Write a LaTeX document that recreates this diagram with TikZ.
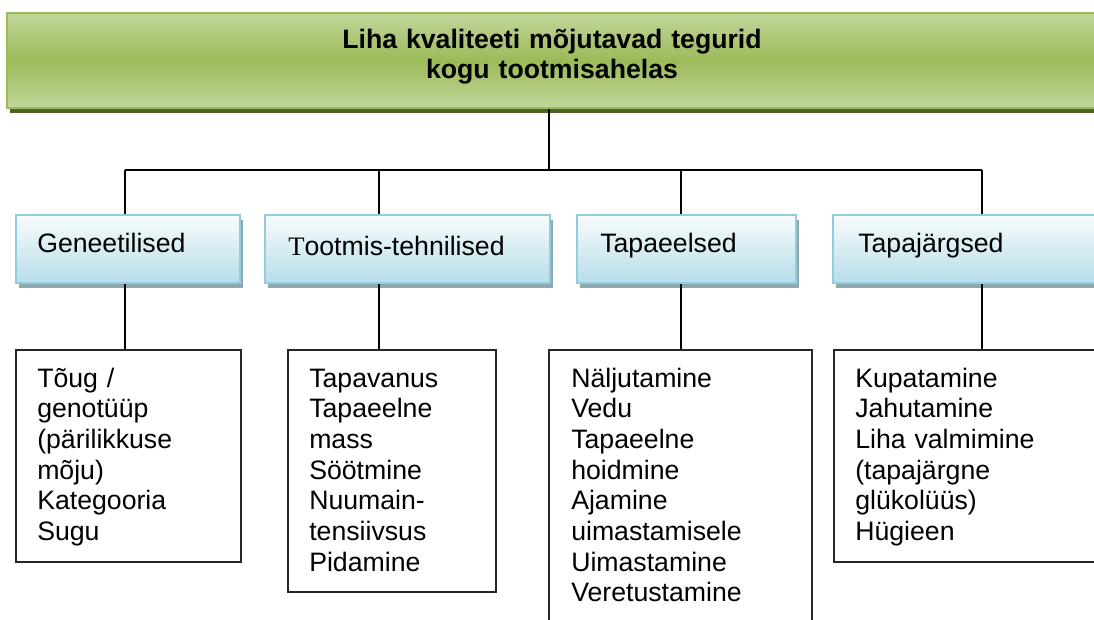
\documentclass[tikz,border=0pt]{standalone}
\usepackage{fontspec}
\setmainfont{Liberation Sans}
\newfontfamily\serifT{Liberation Serif}
\usetikzlibrary{positioning, fit, shadows}

\definecolor{headlight}{HTML}{C3D69B}
\definecolor{headmid}{HTML}{9BBB59}
\definecolor{headshade}{HTML}{4F6228}
\definecolor{catline}{HTML}{93CDDD}
\definecolor{cattop}{HTML}{F8FCFD}
\definecolor{catbottom}{HTML}{B7DEE8}
\definecolor{catshade}{HTML}{8CA8B0}

\tikzset{
    headbox/.style={draw=headmid, line width=1.2pt, inner sep=0pt,
        top color=headlight, bottom color=headlight, middle color=headmid,
        drop shadow={shadow xshift=2.25pt, shadow yshift=-3.75pt,
            fill=headshade, opacity=1}},
    catbox/.style={draw=catline, line width=1.5pt, inner sep=0pt,
        top color=cattop, bottom color=catbottom,
        drop shadow={shadow xshift=2.25pt, shadow yshift=-3.75pt,
            fill=catshade, opacity=1}},
    listbox/.style={draw=black!85, line width=1.1pt, inner sep=0pt},
    cattext/.style={anchor=base west, inner sep=0pt,
        font=\fontsize{20}{23}\selectfont},
    listtext/.style={anchor=base west, inner sep=0pt, text width=190pt,
        align=left, font=\fontsize{20}{23}\selectfont},
    link/.style={line width=1.1pt}
}

\begin{document}
\begin{tikzpicture}[x=0.75pt, y=-0.75pt]
    \useasboundingbox (0,0) rectangle (1094,619);
    \clip (0,0) rectangle (1094,619);

    % header
    \node[headbox, fit={(7,13) (1125,108)}] (head) {};
    \node[anchor=base, inner sep=0pt, text width=500pt, align=center,
        font=\fontsize{20}{23}\selectfont\bfseries] (title) at (552,48)
        {Liha kvaliteeti mõjutavad tegurid\\kogu tootmisahelas};

    % factor groups
    \node[catbox, fit={(16,215) (240,283)}] (genet) {};
    \node[catbox, fit={(265,215) (550,283)}] (tootm) {};
    \node[catbox, fit={(577,215) (796,283)}] (tapae) {};
    \node[catbox, fit={(833,215) (1131,283)}] (tapaj) {};

    \node[cattext] (genetname) at (37,252) {Geneetilised};
    \node[cattext] (tootmname) at (288,255) {{\serifT T}ootmis-tehnilised};
    \node[cattext] (tapaename) at (600,252) {Tapaeelsed};
    \node[cattext] (tapajname) at (858,252) {Tapajärgsed};

    % lists
    \node[listtext] (genetlist) at (37,387)
        {Tõug /\\genotüüp\\(pärilikkuse\\mõju)\\Kategooria\\Sugu};
    \node[listtext] (tootmlist) at (309,387)
        {Tapavanus\\Tapaeelne\\mass\\Söötmine\\Nuumain-\\tensiivsus\\Pidamine};
    \node[listtext] (tapaelist) at (571,387)
        {Näljutamine\\Vedu\\Tapaeelne\\hoidmine\\Ajamine\\uimastamisele\\Uimastamine\\Veretustamine};
    \node[listtext] (tapajlist) at (855,387)
        {Kupatamine\\Jahutamine\\Liha valmimine\\(tapajärgne\\glükolüüs)\\Hügieen};

    \node[listbox, fit={(16,350) (241,562)}] (genetbox) {};
    \node[listbox, fit={(288,350) (496,592)}] (tootmbox) {};
    \node[listbox, fit={(549,350) (812,640)}] (tapaebox) {};
    \node[listbox, fit={(834,350) (1131,562)}] (tapajbox) {};

    % connectors
    \coordinate (split) at (549,170);
    \coordinate (d1) at (125,170);
    \coordinate (d2) at (379,170);
    \coordinate (d3) at (681,170);
    \coordinate (d4) at (982,170);

    \draw[link] (head.south -| split) -- (split);
    \draw[link] (d1) -- (d4);
    \foreach \d/\c/\l in {d1/genet/genetbox, d2/tootm/tootmbox,
                          d3/tapae/tapaebox, d4/tapaj/tapajbox} {
        \draw[link] (\d) -- (\d |- \c.north);
        \draw[link] (\d |- \c.south) -- (\d |- \l.north);
    }
\end{tikzpicture}
\end{document}
